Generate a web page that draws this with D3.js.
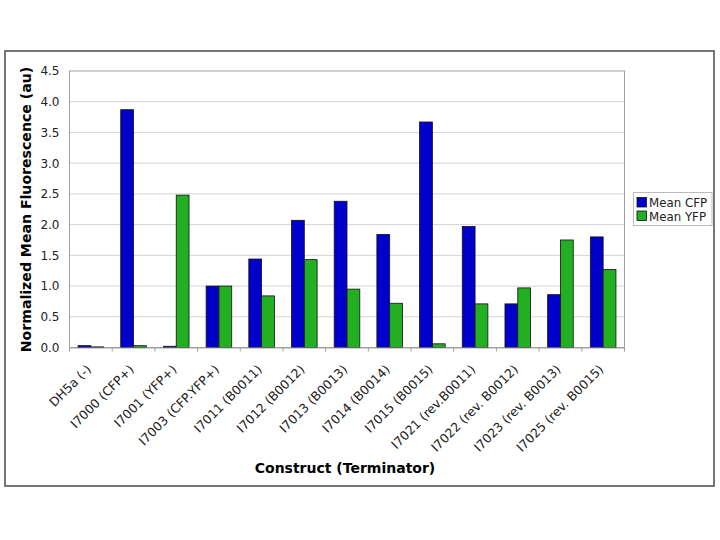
<!DOCTYPE html>
<html>
<head>
<meta charset="utf-8">
<script src="https://cdn.jsdelivr.net/npm/d3@7/dist/d3.min.js"></script>
<style>
  html, body { margin: 0; padding: 0; background: #fff; }
  svg { display: block; font-family: "DejaVu Sans", Verdana, sans-serif; }
</style>
</head>
<body>
<svg id="chart" width="720" height="540"></svg>
<script>
const categories = ["DH5a (-)", "I7000 (CFP+)", "I7001 (YFP+)", "I7003 (CFP.YFP+)", "I7011 (B0011)",
  "I7012 (B0012)", "I7013 (B0013)", "I7014 (B0014)", "I7015 (B0015)", "I7021 (rev.B0011)",
  "I7022 (rev. B0012)", "I7023 (rev. B0013)", "I7025 (rev. B0015)"];
const seriesNames = ["Mean CFP", "Mean YFP"];
const meanCFP = [0.03, 3.87, 0.02, 1.00, 1.44, 2.07, 2.38, 1.84, 3.67, 1.97, 0.71, 0.86, 1.80];
const meanYFP = [0.01, 0.03, 2.48, 1.00, 0.84, 1.43, 0.95, 0.72, 0.06, 0.71, 0.97, 1.75, 1.27];
const yTicks = [0, 0.5, 1.0, 1.5, 2.0, 2.5, 3.0, 3.5, 4.0, 4.5];
const colors = ["#0000CC", "#22B022"];

const svg = d3.select("#chart");

// outer frame
svg.append("rect").attr("x", 5).attr("y", 51).attr("width", 709).attr("height", 435)
  .attr("fill", "#fff").attr("stroke", "#555").attr("stroke-width", 1.6);

const plot = { left: 69.5, right: 624.5, top: 71, bottom: 347.5 };

const x = d3.scaleBand().domain(categories).range([plot.left, plot.right]).paddingInner(0).paddingOuter(0);
const x1 = d3.scaleBand().domain(seriesNames).range([0, x.bandwidth()]).paddingInner(0).paddingOuter(0.667);
const y = d3.scaleLinear().domain([0, 4.5]).range([plot.bottom, plot.top]);

// gridlines
svg.append("g").selectAll("line").data(yTicks.filter(d => d > 0 && d < 4.5)).join("line")
  .attr("x1", plot.left).attr("x2", plot.right)
  .attr("y1", d => y(d)).attr("y2", d => y(d))
  .attr("stroke", "#d4d4d4").attr("stroke-width", 1);

// plot border
svg.append("rect").attr("x", plot.left).attr("y", plot.top)
  .attr("width", plot.right - plot.left).attr("height", plot.bottom - plot.top)
  .attr("fill", "none").attr("stroke", "#a0a0a0").attr("stroke-width", 1);

// bars
const data = categories.map((c, i) => ({ cat: c, vals: [meanCFP[i], meanYFP[i]] }));
const groups = svg.append("g").selectAll("g").data(data).join("g")
  .attr("transform", d => `translate(${x(d.cat)},0)`);
groups.selectAll("rect").data(d => d.vals.map((v, j) => ({ v, s: seriesNames[j], j }))).join("rect")
  .attr("x", d => x1(d.s))
  .attr("width", x1.bandwidth())
  .attr("y", d => y(d.v))
  .attr("height", d => y(0) - y(d.v))
  .attr("fill", d => colors[d.j])
  .attr("stroke", "#111").attr("stroke-width", 0.8);

// y axis
const yAxis = d3.axisLeft(y).tickValues(yTicks).tickFormat(d3.format(".1f")).tickSize(0).tickPadding(10);
const gy = svg.append("g").attr("transform", `translate(${plot.left},0)`).call(yAxis);
gy.select(".domain").remove();
gy.selectAll("text").attr("font-size", 12).attr("fill", "#222").attr("font-family", "DejaVu Sans, Verdana, sans-serif");

// x axis
const xAxis = d3.axisBottom(x).tickSize(0).tickFormat(d => d);
const gx = svg.append("g").attr("transform", `translate(0,${plot.bottom})`).call(xAxis);
gx.select(".domain").attr("stroke", "#a0a0a0");
gx.selectAll(".tick text")
  .attr("font-size", 12.5).attr("fill", "#222").attr("font-family", "DejaVu Sans, Verdana, sans-serif")
  .attr("text-anchor", "end")
  .attr("transform", "translate(-2,19.5) rotate(-45)")
  .attr("dy", "0.35em").attr("y", 0).attr("x", 0);
// category boundary ticks
svg.append("g").selectAll("line").data(d3.range(categories.length + 1)).join("line")
  .attr("x1", i => plot.left + i * x.step()).attr("x2", i => plot.left + i * x.step())
  .attr("y1", plot.bottom).attr("y2", plot.bottom + 4)
  .attr("stroke", "#a0a0a0");

// axis titles
svg.append("text").attr("x", 345).attr("y", 473).attr("text-anchor", "middle")
  .attr("font-size", 14).attr("font-weight", "bold").attr("fill", "#000")
  .text("Construct (Terminator)");
svg.append("text").attr("transform", `translate(31,${(67 + 352) / 2}) rotate(-90)`)
  .attr("text-anchor", "middle")
  .attr("font-size", 14.1).attr("font-weight", "bold").attr("fill", "#000")
  .text("Normalized Mean Fluorescence (au)");

// legend
const leg = svg.append("g");
leg.append("rect").attr("x", 633.5).attr("y", 192.5).attr("width", 78.5).attr("height", 33)
  .attr("fill", "#fff").attr("stroke", "#bbb").attr("stroke-width", 1);
seriesNames.forEach((s, i) => {
  const yy = 197.5 + i * 13.5;
  leg.append("rect").attr("x", 637).attr("y", yy).attr("width", 9.5).attr("height", 9.5)
    .attr("fill", colors[i]).attr("stroke", "#111").attr("stroke-width", 0.8);
  leg.append("text").attr("x", 649).attr("y", yy + 9.5).attr("font-size", 11.8).attr("fill", "#222").text(s);
});
</script>
</body>
</html>
